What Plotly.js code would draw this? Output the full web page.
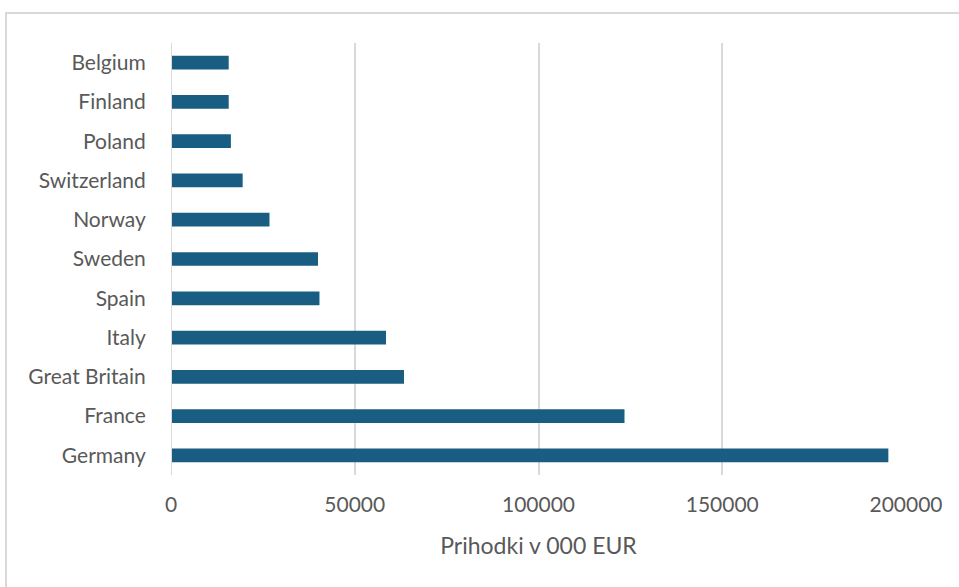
<!DOCTYPE html>
<html>
<head>
<meta charset="utf-8">
<script src="https://cdn.plot.ly/plotly-3.0.1.min.js"></script>
<style>
  html, body { margin: 0; padding: 0; background: #fff; overflow: hidden; }
  #chart { width: 959px; height: 587px; }
  #frame { position: absolute; left: 5px; top: 12px; width: 1200px; height: 1200px;
           border-left: 2px solid #d9d9d9; border-top: 2px solid #d9d9d9; pointer-events: none; }
</style>
</head>
<body>
<div id="chart"></div>
<div id="frame"></div>
<script>
const countries = ["Germany", "France", "Great Britain", "Italy", "Spain", "Sweden",
                   "Norway", "Switzerland", "Poland", "Finland", "Belgium"];
const revenue = [195200, 123400, 63400, 58500, 40400, 40000, 26800, 19500, 16300, 15700, 15700];
const xTicks = [0, 50000, 100000, 150000, 200000];
const xTitle = "Prihodki v 000 EUR";

const trace = {
  type: "bar",
  orientation: "h",
  y: countries,
  x: revenue,
  width: 0.35,
  marker: { color: "#195e82", line: { width: 0 } },
  hoverinfo: "x+y"
};

const fontFam = "Lato, 'Open Sans', sans-serif";
const layout = {
  width: 959,
  height: 587,
  margin: { l: 171, r: 53, t: 43, b: 112 },
  paper_bgcolor: "#ffffff",
  plot_bgcolor: "#ffffff",
  showlegend: false,
  bargap: 0.65,
  font: { family: fontFam, color: "#595959", size: 21 },
  xaxis: {
    range: [0, 200000],
    tickvals: xTicks,
    ticktext: xTicks.map(String),
    showgrid: true,
    gridcolor: "#d9d9d9",
    gridwidth: 2,
    zeroline: false,
    showline: false,
    ticks: "outside",
    ticklen: 11,
    tickcolor: "rgba(0,0,0,0)",
    tickfont: { family: fontFam, size: 21, color: "#595959" },
    title: { text: xTitle, font: { family: fontFam, size: 23, color: "#595959" }, standoff: 22 },
    fixedrange: true
  },
  yaxis: {
    type: "category",
    categoryorder: "array",
    categoryarray: countries,
    showgrid: false,
    zeroline: false,
    showline: false,
    ticks: "outside",
    ticklen: 20,
    tickcolor: "rgba(0,0,0,0)",
    tickfont: { family: fontFam, size: 21, color: "#595959" },
    automargin: false,
    fixedrange: true
  },
  shapes: [{
    type: "line", xref: "x", yref: "paper", x0: 0, x1: 0, y0: 0, y1: 1,
    line: { color: "#d9d9d9", width: 2 }
  }]
};

Plotly.newPlot("chart", [trace], layout, { displayModeBar: false, staticPlot: true });
</script>
</body>
</html>
